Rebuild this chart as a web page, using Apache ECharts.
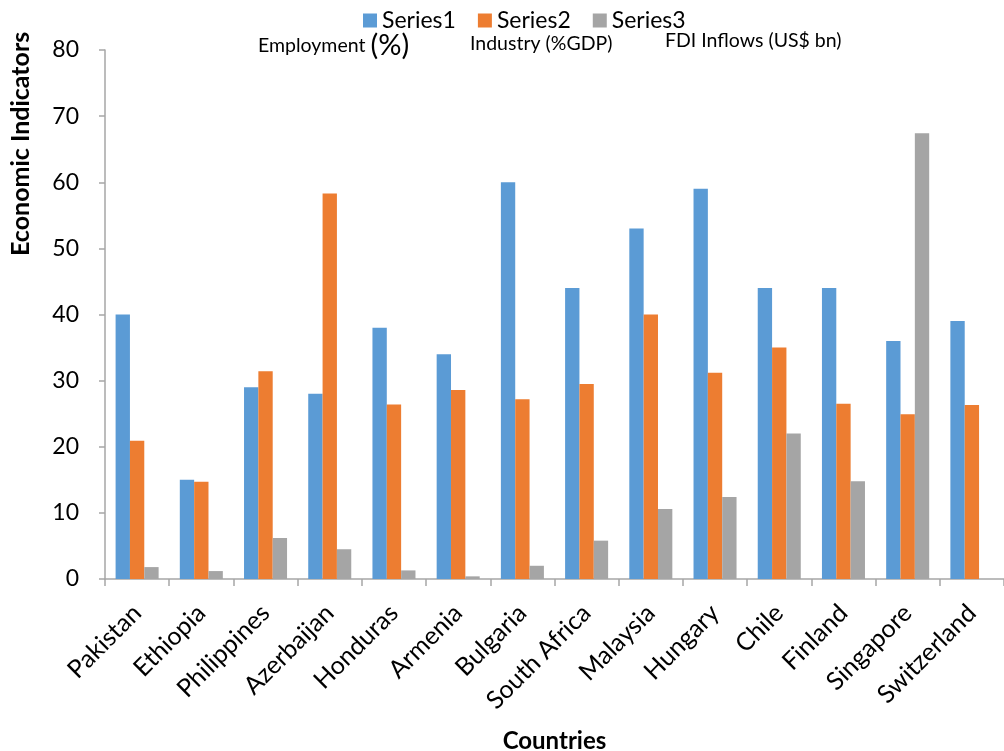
<!DOCTYPE html>
<html>
<head>
<meta charset="utf-8">
<script src="https://cdn.jsdelivr.net/npm/echarts@6/dist/echarts.min.js"></script>
<style>
  html, body { margin: 0; padding: 0; background: #fff; }
  #chart { width: 1004px; height: 751px; }
</style>
</head>
<body>
<div id="chart"></div>
<script>
// Countries on the category axis
const countries = ['Pakistan', 'Ethiopia', 'Philippines', 'Azerbaijan', 'Honduras', 'Armenia',
  'Bulgaria', 'South Africa', 'Malaysia', 'Hungary', 'Chile', 'Finland', 'Singapore', 'Switzerland'];

// Employment (%)
const series1 = [40, 15, 29, 28, 38, 34, 60, 44, 53, 59, 44, 44, 36, 39];
// Industry (%GDP)
const series2 = [20.9, 14.7, 31.4, 58.3, 26.4, 28.6, 27.2, 29.5, 40, 31.2, 35, 26.5, 24.9, 26.3];
// FDI Inflows (US$ bn)
const series3 = [1.8, 1.2, 6.2, 4.5, 1.3, 0.4, 2.0, 5.8, 10.6, 12.4, 22.0, 14.8, 67.4, null];

const seriesNames = ['Series1', 'Series2', 'Series3'];
const seriesNotes = ['Employment', 'Industry (%GDP)', 'FDI Inflows (US$ bn)'];
const yTicks = { min: 0, max: 80, interval: 10 };

const FONT = 'Lato, "Open Sans", sans-serif';
const AXIS_COLOR = '#A6A6A6';
const colors = ['#5B9BD5', '#ED7D31', '#A5A5A5'];

const chart = echarts.init(document.getElementById('chart'), null, { renderer: 'canvas' });

const seriesData = [series1, series2, series3];

chart.setOption({
  animation: false,
  color: colors,
  textStyle: { fontFamily: FONT, color: '#000' },
  legend: {
    top: 4,
    left: 358,
    itemWidth: 14,
    itemHeight: 14,
    itemGap: 22,
    icon: 'rect',
    textStyle: { fontSize: 23, fontFamily: FONT, color: '#000' },
    data: seriesNames
  },
  graphic: [
    {
      type: 'text', left: 258, top: 31,
      style: {
        text: '{a|' + seriesNotes[0] + ' }{b|(%)}',
        rich: {
          a: { fontSize: 19.5, fontFamily: FONT, fill: '#000' },
          b: { fontSize: 29, fontFamily: FONT, fill: '#000' }
        }
      }
    },
    { type: 'text', left: 470, top: 34, style: { text: seriesNotes[1], fontSize: 19.5, fontFamily: FONT, fill: '#000' } },
    { type: 'text', left: 665, top: 31, style: { text: seriesNotes[2], fontSize: 19.5, fontFamily: FONT, fill: '#000' } },
    {
      type: 'text', x: 8, y: 256, rotation: Math.PI / 2,
      style: { text: 'Economic Indicators', fontSize: 25, fontWeight: 'bold', fontFamily: FONT, fill: '#000' }
    }
  ],
  grid: { left: 105, right: 0, top: 50, bottom: 172, containLabel: false, outerBoundsMode: 'none' },
  xAxis: {
    type: 'category',
    data: countries,
    name: 'Countries',
    nameLocation: 'middle',
    nameGap: 150,
    nameTextStyle: { fontSize: 24, fontWeight: 'bold', fontFamily: FONT, color: '#000' },
    axisLine: { lineStyle: { color: AXIS_COLOR, width: 1.5 } },
    axisTick: { show: true, length: 7, alignWithLabel: false, lineStyle: { color: AXIS_COLOR, width: 1.5 } },
    axisLabel: { rotate: 45, fontSize: 25, fontFamily: FONT, color: '#000', margin: 30, interval: 0 }
  },
  yAxis: {
    type: 'value',
    min: yTicks.min,
    max: yTicks.max,
    interval: yTicks.interval,
    splitLine: { show: false },
    axisLine: { show: true, lineStyle: { color: AXIS_COLOR, width: 1.5 } },
    axisTick: { show: true, length: 6, lineStyle: { color: AXIS_COLOR, width: 1.5 } },
    axisLabel: { fontSize: 23, fontFamily: FONT, color: '#000', margin: 26 }
  },
  series: seriesNames.map((name, i) => ({
    name,
    type: 'bar',
    data: seriesData[i],
    barGap: '0%',
    barCategoryGap: '33%',
    itemStyle: { color: colors[i] }
  }))
});
</script>
</body>
</html>
